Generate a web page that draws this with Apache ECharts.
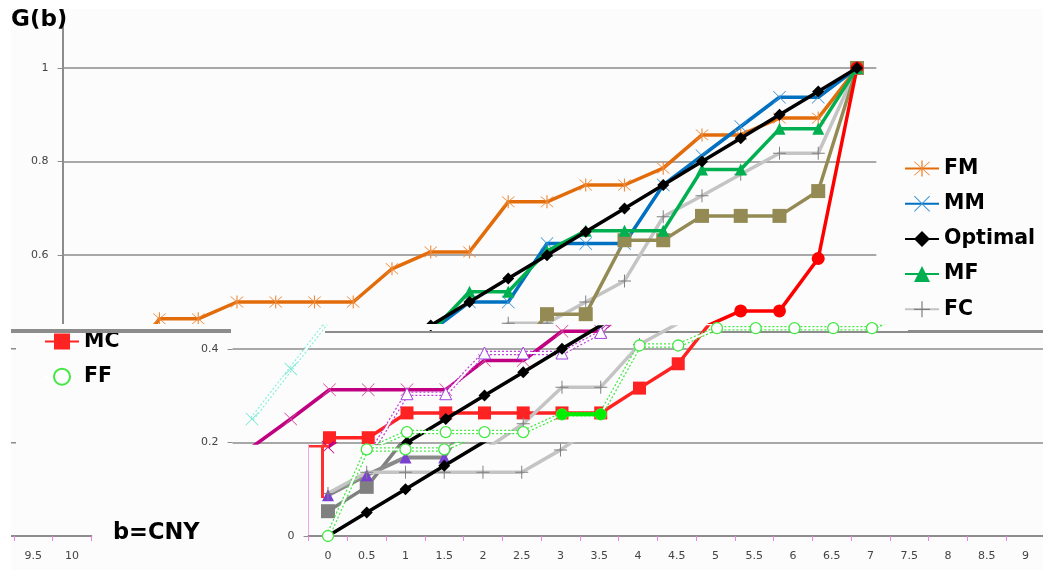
<!DOCTYPE html>
<html><head><meta charset="utf-8">
<style>html,body{margin:0;padding:0;background:#fff}#c{width:1043px;height:570px}</style>
<script src="https://cdn.jsdelivr.net/npm/echarts@6/dist/echarts.min.js"></script>
</head><body><div id="c"></div>
<script>
// ---- data ----
const bValues = ['0','0.5','1','1.5','2','2.5','3','3.5','4','4.5','5','5.5','6','6.5','7','7.5','8','8.5','9','9.5','10'];
const FM = [.25,.357,.464,.464,.5,.5,.5,.5,.571,.607,.607,.714,.714,.75,.75,.786,.857,.857,.893,.893,1];
const MM = [.19,.25,.3125,.3125,.3125,.3125,.375,.375,.4375,.4375,.5,.5,.625,.625,.625,.75,.8125,.875,.9375,.9375,1];
const Optimal = [0,.05,.1,.15,.2,.25,.3,.35,.4,.45,.5,.55,.6,.65,.7,.75,.8,.85,.9,.95,1];
const MF = [.087,.13,.168,.168,.304,.304,.391,.391,.391,.435,.522,.522,.609,.652,.652,.652,.783,.783,.87,.87,1];
const FC = [.091,.136,.136,.136,.136,.136,.184,.24,.318,.318,.409,.4545,.4545,.5,.545,.682,.727,.773,.818,.818,1];
const MC = [.053,.105,.21,.21,.263,.263,.263,.263,.263,.263,.316,.368,.474,.474,.632,.632,.684,.684,.684,.737,1];
const FF = [0,.185,.185,.185,.222,.222,.222,.222,.26,.26,.407,.407,.444,.444,.444,.444,.444,.481,.481,.593,1];

// ---- marker shapes ----
const X_PATH = 'path://M-7 -6.4L-6.4 -7L0 -.6L6.4 -7L7 -6.4L.6 0L7 6.4L6.4 7L0 .6L-6.4 7L-7 6.4L-.6 0Z';
const STAR_PATH = X_PATH + 'M-.6 -8H.6V8H-.6Z';
const PLUS_PATH = 'path://M-.6 -8H.6V-.6H8V.6H.6V8H-.6V.6H-8V-.6H-.6Z';

// ---- layout of the three horizontal bands of the picture ----
const STEP = 38.75, GW = STEP * 21;
const yOf = p => (536 - p) / 468;
const fmt = v => String(v);
function grid(left, top, bottom){ return {left, top, width: GW, height: bottom - top, containLabel:false, outerBoundsMode:'none'}; }
const grids = [
  grid(62.6, 9, 328),
  grid(232.6, 327, 443),
  grid(308.6, 444, 536),
  grid(308.6 - 1031, 444, 536)
];
const GREY = '#8c8c8c';
const lblStyle = {fontFamily:'DejaVu Sans', fontSize:11, color:'#444'};
function xAxis(i, show){
  return {type:'category', gridIndex:i, data:bValues, show, boundaryGap:true,
    axisLine:{show:true, onZero:false, lineStyle:{color:GREY, width:2}},
    axisTick:{show:true, length:5, alignWithLabel:false, lineStyle:{color:'#f080e8'}},
    axisLabel:{show:true, interval:0, margin:15, hideOverlap:false, ...lblStyle},
    splitLine:{show:false}};
}
function yAxis(i, top, bottom, vals, opts){
  return Object.assign({type:'value', gridIndex:i, min:yOf(bottom), max:yOf(top), show:true,
    axisLine:{show:true, lineStyle:{color:GREY, width:2}},
    axisTick:{show:true, length:5, customValues:vals, lineStyle:{color:GREY}},
    axisLabel:{show:true, customValues:vals, formatter:fmt, margin:14, ...lblStyle},
    splitLine:{show:true, lineStyle:{color:GREY, width:1.5}}}, opts||{});
}
const xAxes = [xAxis(0,false), xAxis(1,false), xAxis(2,true), xAxis(3,true)];
const yAxes = [
  yAxis(0, 9, 328, [.6,.8,1]),
  yAxis(1, 327, 443, [.2,.4], {axisLine:{show:false}}),
  yAxis(2, 444, 536, [0], {axisLine:{show:true, lineStyle:{color:'#f3a6f0', width:1}}, splitLine:{show:false}}),
  yAxis(3, 444, 536, [0], {show:false})
];

// ---- series per band ----
const series = [];
function line(name, g, data, z, o){
  series.push({type:'line', name, xAxisIndex:g, yAxisIndex:g, data, z, clip:true,
    symbol:o.symbol||'none', symbolSize:o.size||12, showSymbol:!!o.symbol,
    lineStyle:{color:o.color, width:o.width==null?3.5:o.width, type:o.type||'solid', cap:'butt', join:'round'},
    itemStyle:{color:o.mark||o.color, borderColor:o.border||o.mark||o.color, borderWidth:o.bw==null?0:o.bw},
    animation:false, silent:true, connectNulls:false, legendHoverLink:false});
}
function fringed(name, g, data, z, fringe, o){
  line('_'+name, g, data, z, {color:fringe, width:4.5, type:[2,2]});
  line(name, g, data, z+1, {color:'#ffffff', width:2, symbol:o.symbol, size:o.size, mark:o.mark, border:o.border, bw:o.bw});
}
// upper band (order matters: first of a name feeds the legend)
line('FM',0,FM,2,{color:'#e36c0a',symbol:STAR_PATH,size:13,mark:'#ee8a3a'});
line('MM',0,MM,2,{color:'#0070c0',symbol:X_PATH,size:13,mark:'#3b93d6'});
line('FC',0,FC,2,{color:'#c4c4c4',symbol:PLUS_PATH,size:13,mark:'#7f7f7f'});
line('_MCu',0,MC,2,{color:'#948a54',symbol:'rect',size:14});
line('_FFu',0,FF,2,{color:'#ff0000',symbol:'circle',size:13});
line('MF',0,MF,3,{color:'#00b050',symbol:'triangle',size:12});
line('Optimal',0,Optimal,4,{color:'#000000',symbol:'diamond',size:12,width:3.5});
// middle band
line('MC',1,MC,10,{color:'#ff2222',symbol:'rect',size:13});
fringed('_FMm',1,FM,10,'#8cf0dc',{symbol:X_PATH,size:13,mark:'#6fe6cf'});
line('_MMm',1,MM,10,{color:'#c00080',symbol:X_PATH,size:13,mark:'#d6509e'});
line('_FCm',1,FC,10,{color:'#c4c4c4',symbol:PLUS_PATH,size:13,mark:'#7f7f7f'});
fringed('_MFm',1,MF,11,'#c040d8',{symbol:'triangle',size:12,mark:'#ffffff',border:'#a040e0',bw:1});
line('_Om',1,Optimal,13,{color:'#000000',symbol:'diamond',size:12});
fringed('FF',1,FF,14,'#44e844',{symbol:'circle',size:11,mark:'#ffffff',border:'#44e844',bw:1.3});
line('_FFg',1,FF.map((v,i)=> (i===8||i===9)? v : null),16,{color:'#00ee00',symbol:'circle',size:11,width:4});
// lower band
line('_MCl',2,MC,12,{color:'#808080',symbol:'rect',size:14});
line('_MFl',2,MF,12,{color:'#8a8a8a',symbol:'triangle',size:12,mark:'#7a40d0',width:4});
line('_FCl',2,FC,12,{color:'#c4c4c4',symbol:PLUS_PATH,size:13,mark:'#7f7f7f'});
line('_MMl',2,MM,12,{color:'#c00080',symbol:X_PATH,size:13});
line('_Ol',2,Optimal,13,{color:'#000000',symbol:'diamond',size:12});
fringed('_FFl',2,FF,14,'#44e844',{symbol:'circle',size:11,mark:'#ffffff',border:'#44e844',bw:1.3});

const rect = (x,y,w,h,fill,z)=>({type:'rect',shape:{x,y,width:w,height:h},style:{fill},z,silent:true});
const BG = '#fcfcfc';
const legendText = {fontFamily:'DejaVu Sans',fontWeight:'bold',fontSize:20.5,color:'#000'};

const option = {
  backgroundColor:BG,
  animation:false,
  grid:grids, xAxis:xAxes, yAxis:yAxes, series,
  title:[
    {text:'G(b)',left:11,top:9,padding:0,textStyle:{fontFamily:'DejaVu Sans',fontWeight:'bold',fontSize:23,color:'#000'}},
    {text:'b=CNY',left:113,top:522,padding:0,textStyle:{fontFamily:'DejaVu Sans',fontWeight:'bold',fontSize:22.5,color:'#000'}}
  ],
  legend:[
    {data:['FM','MM','Optimal','MF','FC'],orient:'vertical',left:904,top:158,padding:0,itemGap:14.2,itemWidth:34,itemHeight:20,selectedMode:false,textStyle:legendText},
    {data:['MC','FF'],orient:'vertical',left:44,top:331,padding:0,itemGap:14.2,itemWidth:34,itemHeight:20,selectedMode:false,textStyle:legendText}
  ],
  graphic:{elements:[
    rect(62,324,1000,6,BG,5),          // blank rows between upper and middle bands
    rect(11,329,220,4,'#8c8c8c',6),    // thick seam
    rect(325,331,718,2,'#8c8c8c',6),
    rect(908,330,135,3,'#8c8c8c',6),
    rect(11,348,5,1.5,'#8c8c8c',6),
    rect(11,442,5,1.5,'#8c8c8c',6),
    rect(195,445,30,7,BG,30),          // half-cut 0.2 label
    rect(321,446,3,52,'#ff3030',20),
    rect(309,445,20,2.5,'#ff3030',20),
    rect(0,0,11,570,'#ffffff',40),
    rect(0,0,1043,9,'#ffffff',40)
  ]}
};
echarts.init(document.getElementById('c'),null,{renderer:'canvas'}).setOption(option);
</script></body></html>
